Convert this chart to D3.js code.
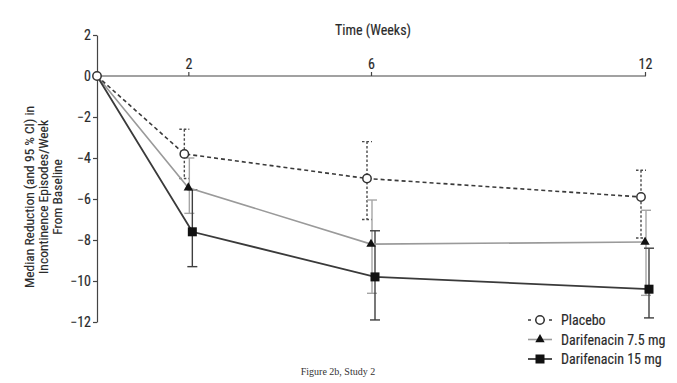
<!DOCTYPE html>
<html><head><meta charset="utf-8">
<script src="https://cdn.jsdelivr.net/npm/d3@7"></script>
<style>
html,body{margin:0;padding:0;background:#fff;}
svg{display:block;}
.cond{font-family:"Liberation Sans Narrow","Arial Narrow","Roboto Condensed","Liberation Sans",sans-serif;stroke:#2a2a2a;stroke-width:0.15px;}
</style></head>
<body>
<svg id="c" width="677" height="383"></svg>
<script>
const weeks = [0, 2, 6, 12];
const xTicks = [2, 6, 12];
const yTicks = [2, 0, -2, -4, -6, -8, -10, -12];
const seriesNames = ["Placebo", "Darifenacin 7.5 mg", "Darifenacin 15 mg"];
const placebo   = [0, -3.8, -5.0, -5.9];
const placeboLo = [null, -5.0, -7.0, -7.9];
const placeboHi = [null, -2.6, -3.2, -4.6];
const dar75   = [0, -5.45, -8.2, -8.1];
const dar75Lo = [null, -6.7, -10.6, -10.7];
const dar75Hi = [null, -4.0, -6.05, -6.55];
const dar15   = [0, -7.6, -9.8, -10.4];
const dar15Lo = [null, -9.3, -11.9, -11.8];
const dar15Hi = [null, -5.55, -7.55, -8.4];

const svg = d3.select("#c");
const x = d3.scaleLinear().domain([0, 12]).range([97, 645]);
const y = d3.scaleLinear().domain([-12, 2]).range([322, 35]);
const txt = "#2a2a2a";

// axes
const gy = svg.append("g").attr("transform", "translate(97,0)")
  .call(d3.axisLeft(y).tickValues(yTicks).tickSize(4).tickPadding(2).tickSizeOuter(0).tickFormat(d3.format("d")));
gy.selectAll("text").attr("class", "cond").style("font-size", "14px").attr("fill", txt);
gy.selectAll("line,path").attr("stroke", "#444").attr("stroke-width", 1.2);

const gx = svg.append("g").attr("transform", `translate(0,${y(0)})`)
  .call(d3.axisTop(x).tickValues(xTicks).tickSize(4).tickPadding(3).tickSizeOuter(0));
gx.select(".domain").attr("d", `M${x(0)},0H${x(12) + 1}`);
gx.selectAll("text").attr("class", "cond").style("font-size", "14px").attr("fill", txt);
gx.selectAll("line,path").attr("stroke", "#444").attr("stroke-width", 1.2);

svg.append("text").attr("class", "cond").attr("x", 373).attr("y", 35)
  .attr("text-anchor", "middle").style("font-size", "14px").attr("fill", txt).text("Time (Weeks)");

// y label
const yl = svg.append("text").attr("class", "cond")
  .attr("transform", "translate(0,197) rotate(-90)")
  .attr("text-anchor", "middle").style("font-size", "13.5px").attr("fill", txt);
["Median Reduction (and 95 % CI) in", "Incontinence Episodes/Week", "From Baseline"].forEach((t, i) => {
  yl.append("tspan").attr("x", 0).attr("y", 34 + i * 14).text(t);
});

const series = [
  { name: seriesNames[0], v: placebo, lo: placeboLo, hi: placeboHi, dx: -4, ebx: -4, color: "#3a3a3a", ebColor: "#4a4a4a", w: 1.6, dash: "4,3", ebDash: "2.5,2", sym: "circle" },
  { name: seriesNames[1], v: dar75, lo: dar75Lo, hi: dar75Hi, dx: 0, ebx: 1, color: "#9a9a9a", ebColor: "#a5a5a5", w: 1.6, dash: null, ebDash: null, sym: "tri" },
  { name: seriesNames[2], v: dar15, lo: dar15Lo, hi: dar15Hi, dx: 4, ebx: 4, color: "#3a3a3a", ebColor: "#3f3f3f", w: 1.8, dash: null, ebDash: null, sym: "sq" }
];

const px = (s, i) => x(weeks[i]) + (i === 0 ? 0 : s.dx);

// error bars
series.forEach(s => {
  const g = svg.append("g");
  weeks.forEach((wk, i) => {
    if (s.lo[i] == null) return;
    const ex = x(wk) + s.ebx;
    const st = sel => sel.attr("stroke", s.ebColor).attr("stroke-width", 1.4).attr("stroke-dasharray", s.ebDash);
    st(g.append("line").attr("x1", ex).attr("x2", ex).attr("y1", y(s.hi[i])).attr("y2", y(s.lo[i])));
    st(g.append("line").attr("x1", ex - 5).attr("x2", ex + 5).attr("y1", y(s.hi[i])).attr("y2", y(s.hi[i])));
    st(g.append("line").attr("x1", ex - 5).attr("x2", ex + 5).attr("y1", y(s.lo[i])).attr("y2", y(s.lo[i])));
  });
});

// lines (draw placebo last so dashes visible)
[series[1], series[2], series[0]].forEach(s => {
  const line = d3.line().x((d, i) => px(s, i)).y(d => y(d));
  svg.append("path").datum(s.v).attr("d", line).attr("fill", "none")
    .attr("stroke", s.color).attr("stroke-width", s.w).attr("stroke-dasharray", s.dash);
});

function drawSym(g, s, cx, cy) {
  if (s.sym === "circle") {
    g.append("circle").attr("cx", cx).attr("cy", cy).attr("r", 4.2).attr("fill", "#fff").attr("stroke", "#333").attr("stroke-width", 1.5);
  } else if (s.sym === "tri") {
    g.append("path").attr("d", d3.symbol(d3.symbolTriangle, 38)()).attr("transform", `translate(${cx},${cy})`).attr("fill", "#111");
  } else {
    g.append("rect").attr("x", cx - 4.5).attr("y", cy - 4.5).attr("width", 9).attr("height", 9).attr("fill", "#111");
  }
}

// markers
[series[2], series[1], series[0]].forEach(s => {
  const g = svg.append("g");
  s.v.forEach((d, i) => {
    if (i === 0 && s.sym !== "circle") return;
    drawSym(g, s, px(s, i), y(d));
  });
});

// legend
const lg = svg.append("g");
series.forEach((s, i) => {
  const ly = 320 + i * 19.5;
  lg.append("line").attr("x1", 528).attr("x2", 552).attr("y1", ly).attr("y2", ly)
    .attr("stroke", s.color).attr("stroke-width", s.w).attr("stroke-dasharray", s.dash ? "3,4" : null);
  drawSym(lg, s, 540, ly);
  lg.append("text").attr("class", "cond").attr("x", 561).attr("y", ly + 5)
    .style("font-size", "14px").attr("fill", txt).text(s.name);
});

svg.append("text").attr("x", 338).attr("y", 375).attr("text-anchor", "middle")
  .style("font-family", "'Liberation Serif','DejaVu Serif',serif").style("font-size", "10px")
  .attr("fill", "#333").text("Figure 2b, Study 2");
</script>
</body></html>
